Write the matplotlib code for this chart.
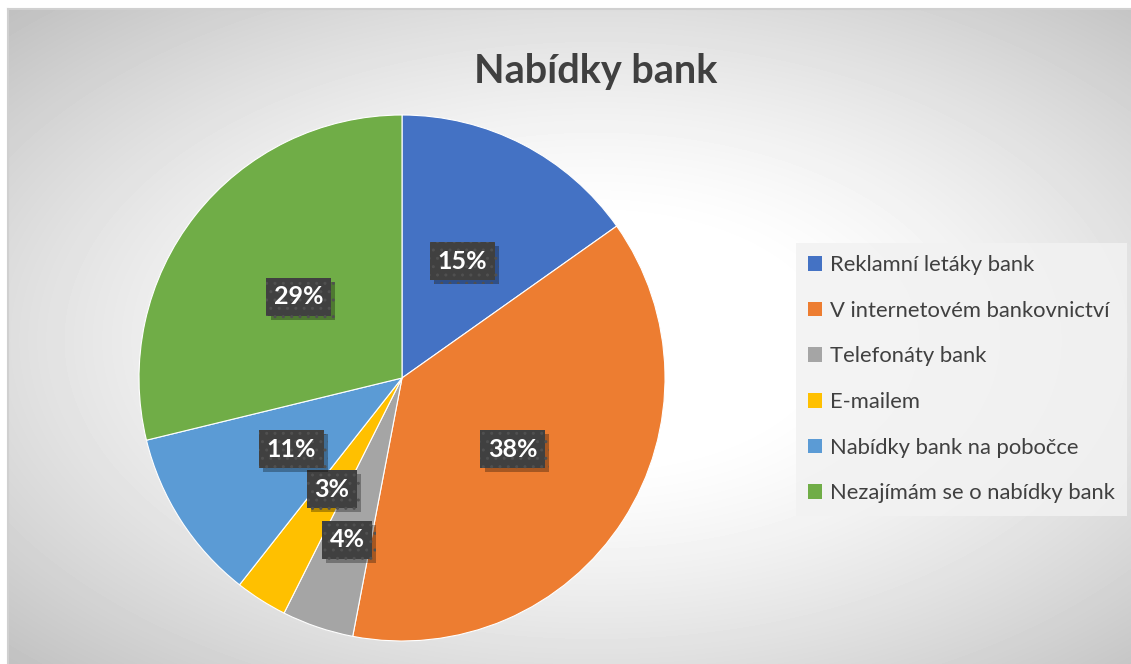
import numpy as np
import matplotlib.pyplot as plt
from matplotlib.patches import Patch
import matplotlib.patheffects as pe

plt.rcParams['font.family'] = ['Lato', 'DejaVu Sans']
plt.rcParams['hatch.linewidth'] = 1.0

labels = ["Reklamní letáky bank", "V internetovém bankovnictví", "Telefonáty bank",
          "E-mailem", "Nabídky bank na pobočce", "Nezajímám se o nabídky bank"]
values = [15.2, 37.8, 4.4, 3.2, 10.6, 28.8]
colors = ["#4472C4", "#ED7D31", "#A5A5A5", "#FFC000", "#5B9BD5", "#70AD47"]
title = "Nabídky bank"

W, H = 1131, 664
fig = plt.figure(figsize=(W / 100, H / 100), dpi=100)
fig.patch.set_facecolor("white")

# background: radial grey gradient of the chart area
bg = fig.add_axes([8 / W, 0, 1 - 8 / W, (H - 9) / H])
xs = np.arange(8, W)
ys = np.arange(9, H)
gx, gy = np.meshgrid(xs, ys)
t = np.sqrt(((gx - 596) / 588.0) ** 2 + ((gy - 340) / 330.0) ** 2) / np.sqrt(2)
t = np.clip((t - 0.25) / 0.75, 0, 1) ** 1.3
shade = (255 - 63 * t) / 255.0
bg.imshow(shade, cmap="gray", vmin=0, vmax=1, aspect="auto", interpolation="bilinear")
bg.set_axis_off()
fig.add_artist(plt.Line2D([8 / W, 8 / W], [0, (H - 9) / H], color="#d0d0d0", lw=1.5))
fig.add_artist(plt.Line2D([8 / W, 1], [(H - 9) / H, (H - 9) / H], color="#d0d0d0", lw=1.5))

# pie
cx, cy, r = 402, H - 378, 263
ax = fig.add_axes([(cx - r) / W, (cy - r) / H, 2 * r / W, 2 * r / H])
wedges, _ = ax.pie(values, colors=colors, startangle=90, counterclock=False,
                   radius=1, wedgeprops=dict(edgecolor="white", linewidth=0.8))
ax.set_xlim(-1, 1)
ax.set_ylim(-1, 1)
ax.set_aspect("equal")
ax.set_axis_off()

dists = [0.5, 0.5, 0.65, 0.5, 0.5, 0.5]
for w, v, d in zip(wedges, values, dists):
    ang = np.deg2rad((w.theta1 + w.theta2) / 2)
    x, y = d * np.cos(ang), d * np.sin(ang)
    t = ax.text(x, y, "%d%%" % round(v), ha="center", va="center", fontsize=18,
                fontweight="bold", color="white",
                bbox=dict(boxstyle="square,pad=0.3", facecolor="#404040",
                          edgecolor="#505050", linewidth=0, hatch=".."))
    t.get_bbox_patch().set_path_effects([
        pe.SimplePatchShadow(offset=(3, -3), shadow_rgbFace="black", alpha=0.3),
        pe.Normal()])

fig.text(596 / W, 1 - 71 / H, title, ha="center", va="center", fontsize=28.5,
         fontweight="bold", color="#404040")

handles = [Patch(facecolor=c, edgecolor="none") for c in colors]
leg = fig.legend(handles, labels, loc="upper left",
                 bbox_to_anchor=(796 / W, 1 - 243 / H), fontsize=15.8,
                 frameon=True, fancybox=False, handlelength=0.65, handleheight=0.65,
                 handletextpad=0.35, labelspacing=1.17, borderpad=0.55,
                 borderaxespad=0, labelcolor="#404040")
leg.get_frame().set_facecolor("#f2f2f2")
leg.get_frame().set_alpha(0.85)
leg.get_frame().set_linewidth(0)

fig.savefig("out.png", dpi=100)
